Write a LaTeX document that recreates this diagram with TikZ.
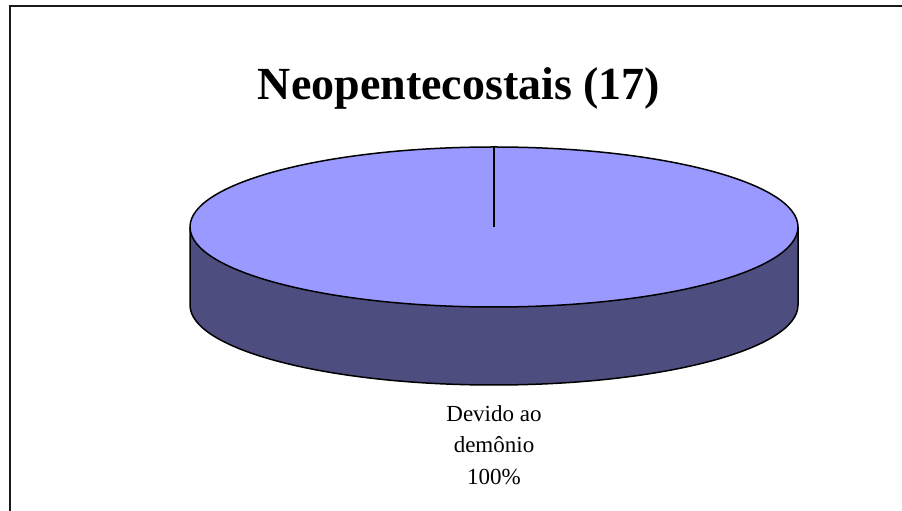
\documentclass[tikz,border=0pt]{standalone}
\usepackage{fontspec}
\setmainfont{Liberation Serif}
\definecolor{pietop}{RGB}{153,153,255}
\definecolor{pieside}{RGB}{77,77,128}
\begin{document}
\begin{tikzpicture}[x=1pt,y=1pt,
  titletext/.style={font=\fontsize{46}{55}\selectfont\bfseries, anchor=base, inner sep=0pt},
  labeltext/.style={font=\fontsize{23}{27}\selectfont, anchor=base, inner sep=0pt},
  pieedge/.style={draw=black, line width=1.5pt, line join=round}]
\useasboundingbox (0,0) rectangle (902,511);
\begin{scope}
\clip (0,0) rectangle (902,511);
\draw[line width=1.6pt, draw=black!90] (10,505) rectangle (915,-10);
\end{scope}
\node[titletext] (title) at (459,411) {Neopentecostais (17)};
\coordinate (topc) at (494,284);
\coordinate (botc) at (494,206);
\fill[pieside] (190,284) -- (190,206) arc[start angle=180,end angle=360,x radius=304,y radius=80] -- (798,284) arc[start angle=0,end angle=-180,x radius=304,y radius=80] -- cycle;
\draw[pieedge] (190,284) -- (190,206) arc[start angle=180,end angle=360,x radius=304,y radius=80] -- (798,284);
\filldraw[pieedge, fill=pietop] (topc) ellipse[x radius=304, y radius=80];
\coordinate (toprim) at (494,364);
\draw[line width=1.2pt] (toprim) -- (topc);
\node[labeltext] (l1) at (494,89) {Devido ao};
\node[labeltext] (l2) at (494,58) {demônio};
\node[labeltext] (l3) at (494,26) {100\%};
\end{tikzpicture}
\end{document}
